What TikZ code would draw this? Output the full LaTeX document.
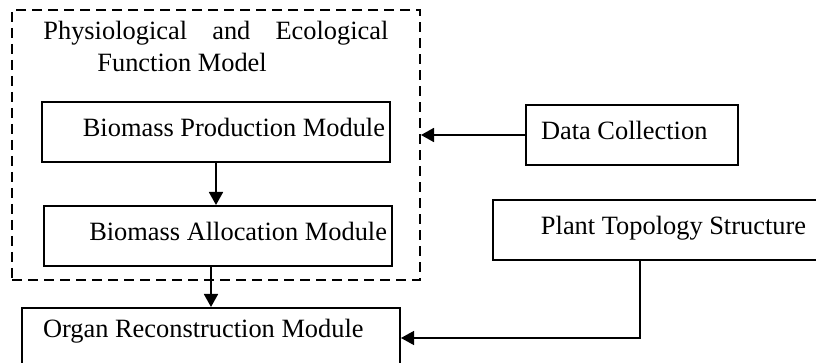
\documentclass[tikz,border=0pt]{standalone}
\usepackage{fontspec}
\setmainfont{Liberation Serif}
\usetikzlibrary{arrows.meta}

\begin{document}
\begin{tikzpicture}[
	x=0.5pt, y=-0.5pt,
	font=\fontsize{13.2}{16}\selectfont,
	module/.style = {draw, line width=1pt, inner xsep=0pt, minimum height=30pt, text height=0.7em, text depth=0.22em},
	frame/.style = {draw, line width=1pt, dash pattern=on 5pt off 3pt, inner sep=0pt},
	arr/.style = {line width=0.9pt, -{Triangle[length=6.5pt,width=7pt]}},
	]
	\clip (0,0) rectangle (816,363);
	% dashed frame
	\node[frame, minimum width=204pt, minimum height=135pt] (model) at (216,145) {};
	\node[anchor=base west, inner sep=0pt] (title) at (43,40) {\makebox[172.5pt][s]{Physiological and Ecological}};
	\node[anchor=base west, inner sep=0pt] (subtitle) at (97,72) {Function Model};
	% modules
	\node[module] (prod) at (216,132) {\makebox[174pt][r]{Biomass Production Module\hspace{2.5pt}}};
	\node[module] (alloc) at (218,236) {\makebox[174pt][r]{Biomass Allocation Module\hspace{2.5pt}}};
	\node[module, text depth=0.7em] (organ) at (211,338) {\makebox[189pt][l]{\hspace{10.5pt}Organ Reconstruction Module}};
	\node[module] (data) at (632,135) {\makebox[106pt][l]{\hspace{7.5pt}Data Collection}};
	\node[module] (plant) at (662,230) {\makebox[169pt][l]{\hspace{24pt}Plant Topology Structure}};
	% arrows
	\draw[arr] (prod.south) -- (prod.south |- alloc.north);
	\draw[arr] (alloc.south -| organ.north) -- (organ.north);
	\draw[arr] (data.west) -- (data.west -| model.east);
	\coordinate (drop) at (640,0);
	\draw[arr, line width=0.7pt] (plant.south -| drop) |- (organ.east);
\end{tikzpicture}
\end{document}
